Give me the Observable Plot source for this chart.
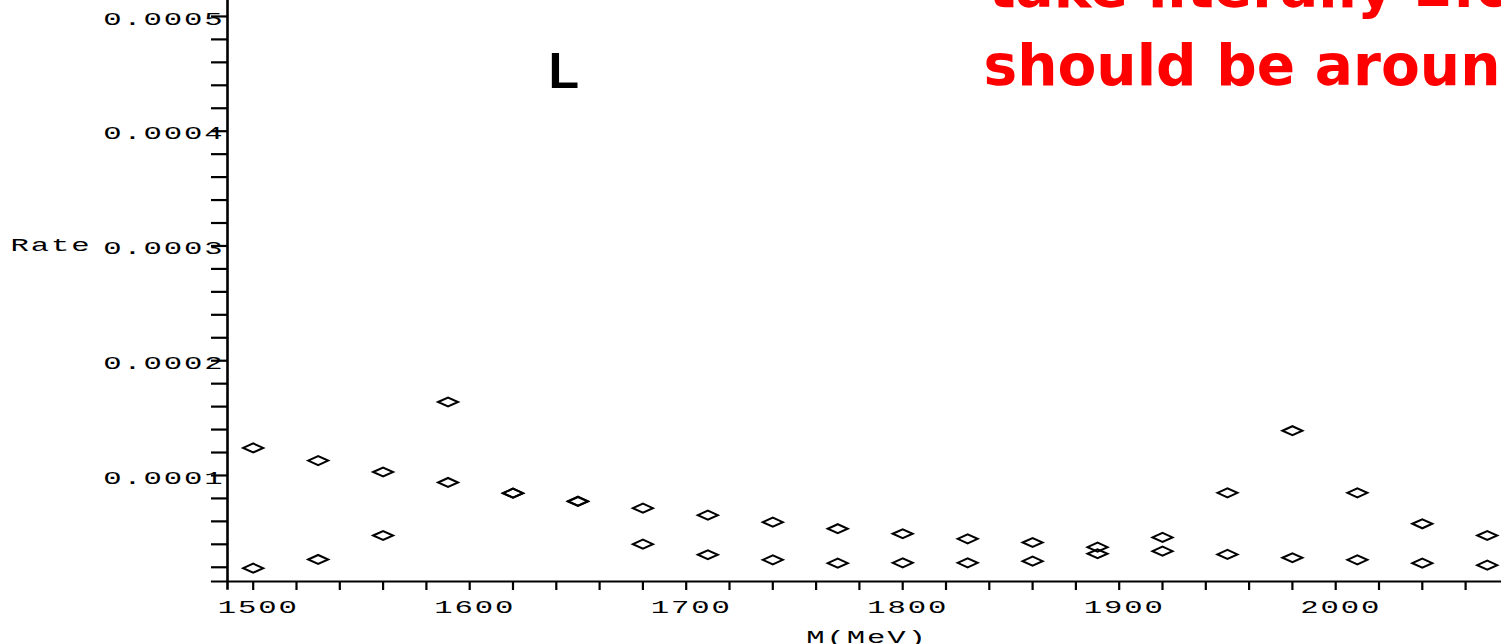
<!DOCTYPE html>
<html>
<head>
<meta charset="utf-8">
<script src="https://cdn.jsdelivr.net/npm/d3@7"></script>
<script src="https://cdn.jsdelivr.net/npm/@observablehq/plot@0.6"></script>
<style>
  html, body { margin: 0; padding: 0; background: #fff; overflow: hidden; }
</style>
</head>
<body>
<div id="chart"></div>
<script>
// Invariant mass bins (MeV)
const mass = [1500, 1530, 1560, 1590, 1620, 1650, 1680, 1710, 1740, 1770,
              1800, 1830, 1860, 1890, 1920, 1950, 1980, 2010, 2040, 2070];

// Rate per bin, first set (falling background with a bump near 1980)
const rateA = [0.000124, 0.000113, 0.000103, 0.0000939, 0.0000846, 0.0000776,
               0.0000715, 0.0000654, 0.0000593, 0.0000536, 0.0000492, 0.0000448,
               0.0000416, 0.0000375, 0.0000460, 0.0000849, 0.000139, 0.0000849,
               0.0000579, 0.0000477];

// Rate per bin, second set (peak near 1590)
const rateB = [0.0000192, 0.0000268, 0.0000477, 0.000164, 0.0000846, 0.0000773,
               0.0000401, 0.0000309, 0.0000265, 0.0000236, 0.0000239, 0.0000239,
               0.0000253, 0.0000318, 0.0000340, 0.0000312, 0.0000283, 0.0000265,
               0.0000236, 0.0000218];

const xMajorTicks = [1500, 1600, 1700, 1800, 1900, 2000];
const xTickLabels = ["1500", "1600", "1700", "1800", "1900", "2000"];
const yMajorTicks = [0.0001, 0.0002, 0.0003, 0.0004, 0.0005];
const yTickLabels = ["0.0001", "0.0002", "0.0003", "0.0004", "0.0005"];

const xLabel = "M(MeV)";
const yLabel = "Rate";
const panelTag = "L";
const noteLines = ["take literally 2.0", "should be around"];

// Axis extents
const xDomain = [1488.13, 2076.58];
const yDomain = [0.0000076, 0.0005139];
const xAxisStart = 1480.7;   // baseline pokes out left of the vertical axis
const xMinor = d3.range(1500, 2077, 20);
const yMinor = d3.range(1, 26).map(i => +(i * 0.00002).toFixed(5));

const points = mass.flatMap((m, i) => [
  {mass: m, rate: rateA[i], set: "A"},
  {mass: m, rate: rateB[i], set: "B"}
]);

// Flattened open diamond marker
const flatDiamond = {
  draw(ctx, size) {
    const r = Math.sqrt(size / Math.PI);
    const w = 2 * r, h = 0.9 * r;
    ctx.moveTo(-w, 0);
    ctx.lineTo(0, -h);
    ctx.lineTo(w, 0);
    ctx.lineTo(0, h);
    ctx.closePath();
  }
};

const labelFont = "Liberation Mono";
const xLabelOf = d => xTickLabels[xMajorTicks.indexOf(d)];
const yLabelOf = d => yTickLabels[yMajorTicks.indexOf(d)];
const noteStyle = {
  frameAnchor: "top-left", textAnchor: "start", lineAnchor: "bottom",
  fontFamily: "DejaVu Sans", fontWeight: "bold", fontSize: 56.6, fill: "#ff0000"
};

const chart = Plot.plot({
  width: 1501,
  height: 644,
  marginLeft: 227,
  marginRight: 0,
  marginTop: 0,
  marginBottom: 63,
  style: {background: "#fff", fontFamily: labelFont, fontSize: "18px", color: "#000", overflow: "hidden"},
  x: {domain: xDomain, axis: null},
  y: {domain: yDomain, axis: null},
  marks: [
    // minor and major tick marks
    Plot.axisX({ticks: xMinor, tickSize: 9, tickFormat: () => "", strokeWidth: 2.2, label: null}),
    Plot.axisY({ticks: yMinor, tickSize: 16, tickFormat: () => "", strokeWidth: 2.2, label: null}),
    // tick labels
    Plot.text(xMajorTicks, {x: d => d, text: xLabelOf, frameAnchor: "bottom", dx: 5, dy: 31}),
    Plot.text(yMajorTicks, {y: d => d, text: yLabelOf, frameAnchor: "left", textAnchor: "end", dx: -3, dy: 2.5}),
    // axis lines
    Plot.ruleX([xDomain[0]], {y1: 0, y2: yDomain[1], strokeWidth: 2.6}),
    Plot.ruleY([yDomain[0]], {x1: xAxisStart, x2: xDomain[1], strokeWidth: 2.2}),
    // axis titles
    Plot.text([yMajorTicks[2]], {
      y: d => d, text: () => yLabel, frameAnchor: "left", dx: -217, dy: -1, textAnchor: "start"
    }),
    Plot.text([xLabel], {frameAnchor: "bottom", dx: 2.5, dy: 61.5}),
    // data
    Plot.dot(points, {
      x: "mass", y: "rate", symbol: flatDiamond, r: 5,
      fill: "none", stroke: "#000", strokeWidth: 2
    }),
    // annotations
    Plot.text([panelTag], {
      frameAnchor: "top-left", dx: 321, dy: 87, textAnchor: "start", lineAnchor: "bottom",
      fontFamily: "Liberation Sans", fontWeight: "bold", fontSize: 50, fill: "#000"
    }),
    Plot.text([noteLines[0]], {...noteStyle, dx: 761, dy: 6}),
    Plot.text([noteLines[1]], {...noteStyle, dx: 756, dy: 84})
  ]
});

document.getElementById("chart").append(chart);

// Wide, stretched plotter-style lettering for axis text:
// each label is re-hung under a group that scales it horizontally about its anchor point.
const stretch = 1.7;
const stretched = new Set([...xTickLabels, ...yTickLabels, xLabel, yLabel]);
[...chart.querySelectorAll("text")]
  .filter(t => stretched.has(t.textContent))
  .forEach(t => {
    const cs = getComputedStyle(t);
    const m = t.getCTM();
    const ax = m.e;
    t.setAttribute("font-family", cs.fontFamily);
    t.setAttribute("font-size", cs.fontSize);
    t.setAttribute("letter-spacing", "1.1px");
    t.setAttribute("text-anchor", cs.textAnchor);
    t.setAttribute("fill", cs.fill);
    t.setAttribute("transform", `matrix(${m.a},${m.b},${m.c},${m.d},${m.e},${m.f})`);
    const g = document.createElementNS("http://www.w3.org/2000/svg", "g");
    g.setAttribute("transform", `translate(${ax},0) scale(${stretch},1) translate(${-ax},0)`);
    chart.appendChild(g);
    g.appendChild(t);
  });
</script>
</body>
</html>
